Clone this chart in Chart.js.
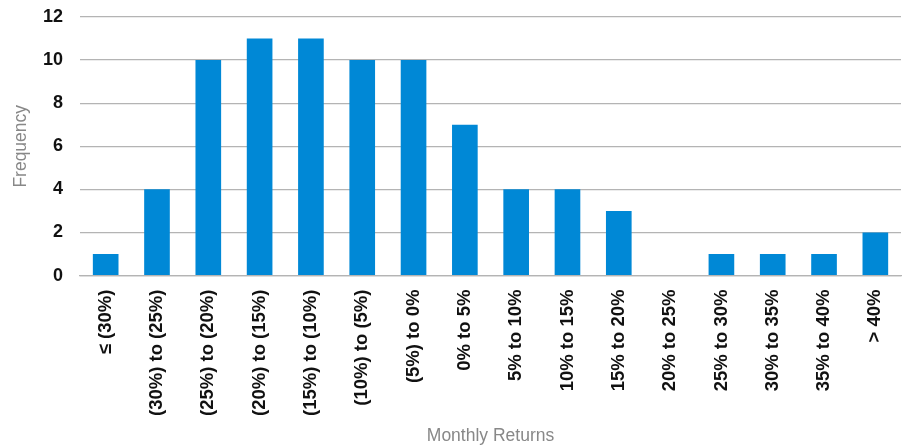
<!DOCTYPE html>
<html>
<head>
<meta charset="utf-8">
<script src="https://cdn.jsdelivr.net/npm/chart.js@4/dist/chart.umd.min.js"></script>
<style>
  html, body { margin: 0; padding: 0; background: #fff; }
  #wrap { width: 904px; height: 447px; }
</style>
</head>
<body>
<div id="wrap"><canvas id="histChart" width="904" height="447"></canvas></div>
<script>
// Datos del histograma
const categories = ['≤ (30%)', '(30%) to (25%)', '(25%) to (20%)', '(20%) to (15%)', '(15%) to (10%)',
    '(10%) to (5%)', '(5%) to 0%', '0% to 5%', '5% to 10%', '10% to 15%', '15% to 20%',
    '20% to 25%', '25% to 30%', '30% to 35%', '35% to 40%', '> 40%'];
const frequency = [1, 4, 10, 11, 11, 10, 10, 7, 4, 4, 3, 0, 1, 1, 1, 2];
const yTicks = [0, 2, 4, 6, 8, 10, 12];

const fontFam = '"Liberation Sans", Arial, Helvetica, sans-serif';

new Chart(document.getElementById('histChart'), {
    type: 'bar',
    data: {
        labels: categories,
        datasets: [{
            label: 'Frequency',
            data: frequency,
            backgroundColor: '#0088d6',
            borderWidth: 0,
            barPercentage: 0.5,
            categoryPercentage: 1.0
        }]
    },
    options: {
        responsive: false,
        animation: false,
        layout: { padding: { top: 17, right: 3, bottom: 0, left: 11 } },
        plugins: {
            legend: { display: false },
            tooltip: { enabled: false }
        },
        scales: {
            y: {
                min: 0,
                max: 12,
                afterBuildTicks: axis => { axis.ticks = yTicks.map(v => ({ value: v })); },
                // marcas invisibles para separar las etiquetas sin inflar el padding superior
                grid: { color: '#b4b4b4', lineWidth: 1.3, drawTicks: true, tickLength: 14, tickColor: 'rgba(0,0,0,0)' },
                border: { display: false },
                ticks: {
                    color: '#111',
                    padding: 3,
                    font: { family: fontFam, size: 18, weight: 'bold' }
                },
                title: {
                    display: true,
                    text: 'Frequency',
                    color: '#888',
                    padding: { top: 0, bottom: 8 },
                    font: { family: fontFam, size: 17.5 }
                }
            },
            x: {
                grid: { display: false, drawTicks: false },
                border: { color: '#b4b4b4', width: 1.3 },
                ticks: {
                    color: '#111',
                    padding: 14,
                    minRotation: 90,
                    maxRotation: 90,
                    autoSkip: false,
                    font: { family: fontFam, size: 18.5, weight: 'bold', lineHeight: 0.6 }
                },
                title: {
                    display: true,
                    text: 'Monthly Returns',
                    color: '#888',
                    padding: { top: -4, bottom: 0 },
                    font: { family: fontFam, size: 17.5 }
                }
            }
        }
    }
});
</script>
</body>
</html>
